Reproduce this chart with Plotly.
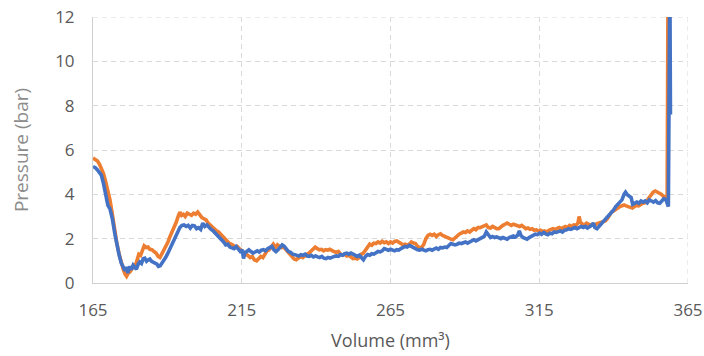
import plotly.graph_objects as go

# Orange series (volume mm3, pressure bar)
orange_x = [165.0, 165.8, 166.5, 167.2, 167.8, 168.5, 169.2, 170.0, 170.7, 171.5, 172.3, 173.0, 173.8, 174.5, 175.2, 175.8, 176.3, 176.9, 177.4, 178.0,
            178.6, 179.2, 179.8, 180.4, 181.0, 181.6, 182.2, 182.9, 183.5, 184.1, 184.8, 185.5, 186.2, 186.9, 187.5, 188.1, 188.8, 189.5, 190.2, 190.9,
            191.6, 192.3, 193.0, 193.6, 194.2, 194.8, 195.4, 196.0, 196.7, 197.4, 198.1, 198.8, 199.5, 200.2, 200.9, 201.6, 202.3, 203.0, 203.7, 204.4,
            205.1, 205.8, 206.5, 207.2, 207.9, 208.6, 209.3, 210.0, 210.7, 211.4, 212.1, 212.8, 213.5, 214.2, 214.9, 215.6, 216.3, 217.0, 217.8, 218.5,
            219.2, 220.0, 220.7, 221.4, 222.1, 222.8, 223.5, 224.2, 224.9, 225.6, 226.3, 227.0, 227.7, 228.4, 229.1, 229.8, 230.5, 231.2, 231.9, 232.6,
            233.3, 234.0, 234.8, 235.5, 236.2, 236.9, 237.6, 238.3, 239.0, 239.7, 240.4, 241.1, 241.8, 242.5, 243.2, 243.9, 244.6, 245.3, 246.0, 246.8,
            247.5, 248.2, 248.9, 249.6, 250.3, 251.0, 251.7, 252.4, 253.1, 253.8, 254.5, 255.2, 255.9, 256.6, 257.3, 258.0, 258.7, 259.4, 260.1, 260.8,
            261.5, 262.2, 262.9, 263.6, 264.3, 265.0, 265.7, 266.4, 267.1, 267.8, 268.5, 269.2, 269.9, 270.6, 271.3, 272.0, 272.7, 273.4, 274.1, 274.8,
            275.5, 276.2, 276.9, 277.6, 278.3, 279.0, 279.7, 280.4, 281.1, 281.8, 282.5, 283.2, 283.9, 284.6, 285.3, 286.0, 286.7, 287.4, 288.1, 288.8,
            289.5, 290.2, 290.9, 291.6, 292.3, 293.0, 293.7, 294.4, 295.1, 295.8, 296.5, 297.2, 297.9, 298.6, 299.3, 300.0, 300.7, 301.4, 302.1, 302.8,
            303.5, 304.2, 304.9, 305.6, 306.3, 307.0, 307.7, 308.4, 309.1, 309.8, 310.5, 311.2, 311.9, 312.6, 313.3, 314.0, 314.7, 315.4, 316.1, 316.8,
            317.5, 318.2, 318.9, 319.6, 320.3, 321.0, 321.7, 322.4, 323.1, 323.8, 324.5, 325.2, 325.9, 326.6, 327.3, 328.0, 328.4, 328.8, 329.5, 330.2,
            330.9, 331.6, 332.3, 333.0, 333.7, 334.4, 335.1, 335.8, 336.5, 337.2, 337.9, 338.6, 339.3, 340.0, 340.7, 341.4, 342.1, 342.8, 343.5, 344.2,
            344.9, 345.6, 346.3, 347.0, 347.7, 348.4, 349.1, 349.8, 350.5, 351.2, 351.9, 352.6, 353.3, 354.0, 354.7, 355.4, 356.1, 356.8, 357.5, 358.0,
            358.3]
orange_y = [5.64, 5.55, 5.5, 5.35, 5.2, 4.95, 4.6, 4.2, 3.75, 3.1, 2.3, 1.8, 1.3, 0.9, 0.6, 0.4, 0.3, 0.45, 0.5, 0.62,
            0.8, 0.75, 1.0, 1.3, 1.25, 1.5, 1.68, 1.6, 1.62, 1.52, 1.5, 1.42, 1.35, 1.2, 1.15, 1.3, 1.48, 1.6, 1.85, 2.1,
            2.3, 2.55, 2.75, 3.0, 3.2, 3.05, 3.1, 3.0, 3.15, 3.1, 3.05, 3.15, 3.1, 3.2, 3.05, 2.95, 2.9, 2.85, 2.7, 2.6,
            2.5, 2.45, 2.35, 2.3, 2.2, 2.1, 1.95, 1.85, 1.8, 1.75, 1.7, 1.6, 1.65, 1.55, 1.45, 1.4, 1.3, 1.25, 1.15, 1.2,
            1.05, 1.0, 1.1, 1.2, 1.15, 1.3, 1.45, 1.5, 1.65, 1.75, 1.6, 1.72, 1.65, 1.6, 1.62, 1.5, 1.4, 1.3, 1.15, 1.08,
            1.05, 1.12, 1.2, 1.15, 1.25, 1.3, 1.35, 1.45, 1.55, 1.62, 1.55, 1.5, 1.52, 1.45, 1.5, 1.48, 1.52, 1.45, 1.42, 1.38,
            1.42, 1.3, 1.25, 1.3, 1.22, 1.25, 1.15, 1.1, 1.12, 1.08, 1.15, 1.3, 1.35, 1.5, 1.65, 1.75, 1.7, 1.8, 1.78, 1.85,
            1.8, 1.88, 1.82, 1.86, 1.78, 1.85, 1.8, 1.88, 1.9, 1.85, 1.8, 1.72, 1.75, 1.7, 1.75, 1.85, 1.8, 1.78, 1.65, 1.6,
            1.6, 1.75, 2.0, 2.15, 2.2, 2.15, 2.2, 2.1, 2.18, 2.22, 2.15, 2.1, 2.05, 2.0, 1.98, 1.95, 2.05, 2.15, 2.2, 2.25,
            2.3, 2.28, 2.35, 2.3, 2.4, 2.45, 2.4, 2.5, 2.5, 2.55, 2.6, 2.62, 2.5, 2.48, 2.55, 2.5, 2.45, 2.45, 2.55, 2.6,
            2.65, 2.7, 2.65, 2.6, 2.65, 2.62, 2.6, 2.55, 2.6, 2.5, 2.45, 2.48, 2.42, 2.45, 2.38, 2.4, 2.35, 2.38, 2.32, 2.35,
            2.3, 2.38, 2.4, 2.45, 2.42, 2.48, 2.5, 2.45, 2.52, 2.55, 2.5, 2.6, 2.55, 2.62, 2.6, 2.7, 3.0, 2.75, 2.65, 2.62,
            2.7, 2.65, 2.6, 2.65, 2.62, 2.68, 2.7, 2.72, 2.75, 2.8, 2.9, 3.05, 3.2, 3.25, 3.3, 3.38, 3.45, 3.5, 3.52, 3.48,
            3.45, 3.42, 3.38, 3.45, 3.5, 3.48, 3.55, 3.6, 3.62, 3.7, 3.85, 3.98, 4.1, 4.15, 4.1, 4.05, 4.0, 3.9, 3.88, 3.85,
            14.0]

# Blue series (volume mm3, pressure bar)
blue_x = [165.0, 165.8, 166.5, 167.2, 167.8, 168.5, 169.2, 170.0, 170.7, 171.5, 172.3, 173.0, 173.8, 174.5, 175.2, 175.8, 176.2, 176.7, 177.3, 177.9,
          178.5, 179.0, 179.6, 180.2, 180.7, 181.3, 181.9, 182.4, 183.0, 183.6, 184.1, 184.7, 185.3, 185.9, 186.5, 187.0, 187.6, 188.2, 188.8, 189.4,
          190.0, 190.7, 191.4, 192.1, 192.8, 193.5, 194.2, 194.9, 195.6, 196.3, 197.0, 197.7, 198.4, 199.1, 199.8, 200.5, 201.2, 201.9, 202.6, 203.3,
          204.0, 204.7, 205.4, 206.1, 206.8, 207.5, 208.2, 208.9, 209.6, 210.3, 211.0, 211.7, 212.4, 213.1, 213.8, 214.5, 215.2, 215.6, 216.0, 216.7,
          217.4, 218.1, 218.8, 219.5, 220.2, 220.9, 221.6, 222.3, 223.0, 223.7, 224.4, 225.1, 225.8, 226.5, 227.2, 227.9, 228.6, 229.3, 230.0, 230.7,
          231.4, 232.1, 232.8, 233.5, 234.2, 234.9, 235.6, 236.3, 237.0, 237.7, 238.4, 239.1, 239.8, 240.5, 241.2, 241.9, 242.6, 243.3, 244.0, 244.7,
          245.4, 246.1, 246.8, 247.5, 248.2, 248.9, 249.6, 250.3, 251.0, 251.7, 252.4, 253.1, 253.8, 254.5, 255.2, 255.9, 256.6, 257.3, 258.0, 258.7,
          259.4, 260.1, 260.8, 261.5, 262.2, 262.9, 263.6, 264.3, 265.0, 265.7, 266.4, 267.1, 267.8, 268.5, 269.2, 269.9, 270.6, 271.3, 272.0, 272.7,
          273.4, 274.1, 274.8, 275.5, 276.2, 276.9, 277.6, 278.3, 279.0, 279.7, 280.4, 281.1, 281.8, 282.5, 283.2, 283.9, 284.6, 285.3, 286.0, 286.7,
          287.4, 288.1, 288.8, 289.5, 290.2, 290.9, 291.6, 292.3, 293.0, 293.7, 294.4, 295.1, 295.8, 296.5, 297.2, 297.9, 298.6, 299.3, 300.0, 300.7,
          301.4, 302.1, 302.8, 303.5, 304.2, 304.9, 305.6, 306.3, 307.0, 307.7, 308.3, 308.8, 309.5, 310.2, 310.9, 311.6, 312.3, 313.0, 313.7, 314.4,
          315.1, 315.8, 316.5, 317.2, 317.9, 318.6, 319.3, 320.0, 320.7, 321.4, 322.1, 322.8, 323.5, 324.2, 324.9, 325.6, 326.3, 327.0, 327.7, 328.4,
          329.1, 329.8, 330.5, 331.2, 331.9, 332.6, 333.2, 333.7, 334.4, 335.1, 335.8, 336.5, 337.2, 337.9, 338.6, 339.3, 340.0, 340.7, 341.4, 342.1,
          342.8, 343.5, 344.0, 344.6, 345.2, 345.9, 346.4, 347.1, 347.8, 348.5, 349.2, 349.9, 350.6, 351.3, 352.0, 352.7, 353.4, 354.1, 354.8, 355.5,
          356.2, 356.9, 357.6, 358.0, 358.4, 358.9, 359.1]
blue_y = [5.25, 5.2, 5.1, 4.95, 4.87, 4.5, 4.0, 3.5, 3.35, 2.9, 2.25, 1.7, 1.25, 0.9, 0.7, 0.55, 0.72, 0.45, 0.75, 0.6,
          0.8, 0.72, 0.62, 0.85, 0.95, 0.88, 1.1, 1.12, 0.98, 1.05, 1.08, 0.98, 0.95, 0.9, 0.85, 0.75, 0.78, 0.9, 1.0, 1.15,
          1.3, 1.5, 1.65, 1.85, 2.05, 2.25, 2.5, 2.6, 2.62, 2.55, 2.6, 2.48, 2.6, 2.58, 2.45, 2.5, 2.42, 2.7, 2.55, 2.62,
          2.5, 2.42, 2.35, 2.25, 2.15, 2.1, 2.0, 1.85, 1.72, 1.75, 1.62, 1.58, 1.55, 1.65, 1.5, 1.42, 1.5, 1.1, 1.35, 1.45,
          1.5, 1.42, 1.35, 1.4, 1.45, 1.4, 1.48, 1.5, 1.45, 1.55, 1.6, 1.65, 1.5, 1.42, 1.5, 1.62, 1.72, 1.65, 1.5, 1.42,
          1.38, 1.3, 1.28, 1.25, 1.22, 1.28, 1.25, 1.3, 1.22, 1.2, 1.25, 1.18, 1.22, 1.18, 1.15, 1.2, 1.12, 1.1, 1.15, 1.12,
          1.18, 1.2, 1.22, 1.2, 1.28, 1.25, 1.32, 1.35, 1.3, 1.35, 1.3, 1.25, 1.2, 1.25, 1.15, 1.05, 1.2, 1.28, 1.25, 1.32,
          1.3, 1.38, 1.42, 1.4, 1.45, 1.55, 1.5, 1.48, 1.52, 1.48, 1.45, 1.5, 1.48, 1.55, 1.6, 1.65, 1.62, 1.7, 1.65, 1.58,
          1.55, 1.5, 1.48, 1.52, 1.5, 1.45, 1.5, 1.52, 1.48, 1.55, 1.58, 1.52, 1.6, 1.58, 1.62, 1.6, 1.68, 1.78, 1.75, 1.72,
          1.75, 1.8, 1.78, 1.82, 1.85, 1.8, 1.85, 1.92, 1.95, 1.9, 1.95, 2.0, 2.05, 2.1, 2.3, 2.15, 2.05, 2.1, 2.05, 2.08,
          2.02, 2.0, 2.05, 2.0, 1.98, 2.05, 2.1, 2.12, 2.08, 2.15, 2.35, 2.15, 2.05, 2.02, 1.98, 2.05, 2.1, 2.12, 2.2, 2.18,
          2.25, 2.2, 2.28, 2.22, 2.18, 2.25, 2.22, 2.3, 2.28, 2.32, 2.35, 2.3, 2.38, 2.4, 2.45, 2.42, 2.48, 2.5, 2.45, 2.52,
          2.55, 2.5, 2.55, 2.48, 2.52, 2.6, 2.7, 2.5, 2.45, 2.55, 2.7, 2.8, 2.9, 2.95, 3.1, 3.2, 3.3, 3.45, 3.55, 3.6,
          3.75, 4.0, 4.1, 3.98, 3.9, 3.85, 3.55, 3.6, 3.65, 3.6, 3.7, 3.65, 3.7, 3.62, 3.75, 3.7, 3.65, 3.72, 3.62, 3.6,
          3.7, 3.8, 3.75, 3.6, 3.45, 14.0, 7.6]

x_ticks = [165, 215, 265, 315, 365]
y_ticks = [0, 2, 4, 6, 8, 10, 12]

ORANGE = "#ED7D31"
BLUE = "#4472C4"
GRID = "#d9d9d9"
FONT = "Open Sans"

fig = go.Figure()
fig.add_trace(go.Scatter(x=orange_x, y=orange_y, mode="lines",
                         line=dict(color=ORANGE, width=3.6), showlegend=False))
fig.add_trace(go.Scatter(x=blue_x, y=blue_y, mode="lines",
                         line=dict(color=BLUE, width=3.6), showlegend=False))

# edge gridlines (at the last tick values) which plotly drops at the range ends
fig.add_shape(type="line", xref="x", yref="paper", x0=x_ticks[-1], x1=x_ticks[-1], y0=0, y1=1,
              line=dict(color=GRID, width=1, dash="5px,4px"), layer="below")
fig.add_shape(type="line", xref="paper", yref="y", x0=0, x1=1, y0=y_ticks[-1], y1=y_ticks[-1],
              line=dict(color=GRID, width=1, dash="5px,4px"), layer="below")

fig.update_layout(
    width=704, height=356,
    margin=dict(l=93, r=16, t=17, b=73),
    paper_bgcolor="white", plot_bgcolor="white",
    font=dict(family=FONT, color="#595959", size=17),
    xaxis=dict(range=[165, 365], tickvals=x_ticks, ticks="", automargin=False,
               showline=True, linecolor="#d0d0d0", linewidth=1,
               showgrid=True, gridcolor=GRID, griddash="5px,4px", gridwidth=1,
               zeroline=False, tickfont=dict(size=17, color="#595959"), ticklabelstandoff=12,
               title=dict(text="Volume (mm³)", font=dict(size=18, color="#595959"), standoff=13)),
    yaxis=dict(range=[0, 12], tickvals=y_ticks, ticks="", automargin=False,
               showline=True, linecolor="#d0d0d0", linewidth=1,
               showgrid=True, gridcolor=GRID, griddash="5px,4px", gridwidth=1,
               zeroline=False, tickfont=dict(size=17, color="#595959"), ticklabelstandoff=14,
               title=dict(text="Pressure (bar)", font=dict(size=19, color="#8c8c8c"), standoff=21)),
)

fig.write_html("out.html")
